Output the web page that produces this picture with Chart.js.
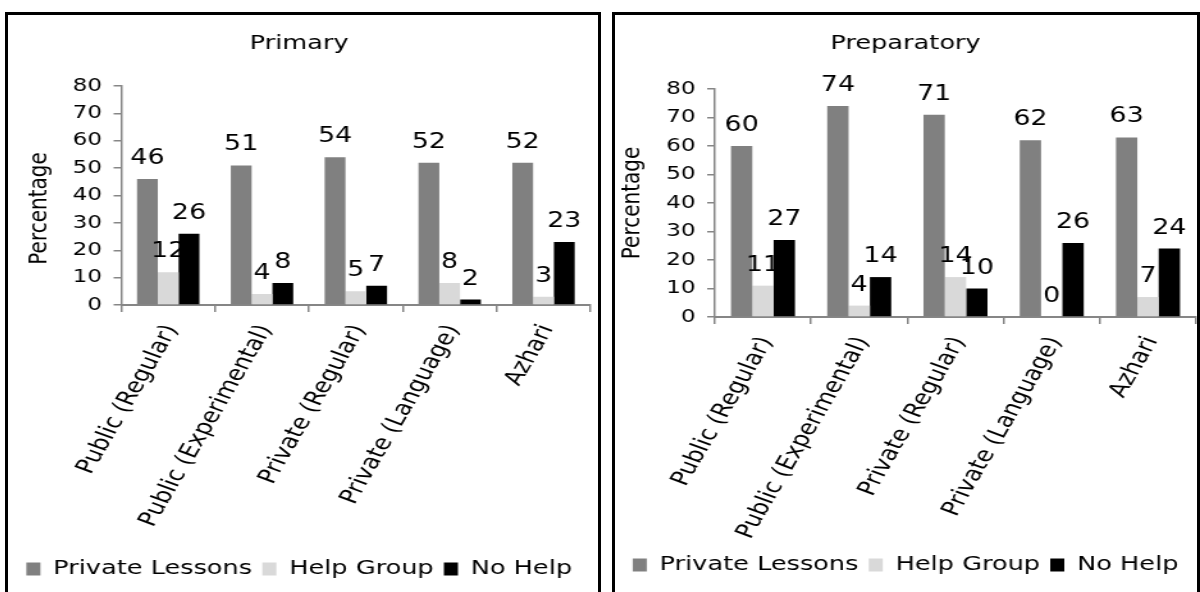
<!DOCTYPE html>
<html>
<head>
<meta charset="utf-8">
<script src="https://cdn.jsdelivr.net/npm/chart.js@4.4.1/dist/chart.umd.min.js"></script>
<style>
  html, body { margin: 0; padding: 0; background: #fff; }
  body { width: 1200px; height: 592px; position: relative; overflow: hidden; }
  .panel { position: absolute; top: 12px; height: 600px; border: 3px solid #000; box-sizing: border-box; background: #fff; overflow: hidden; }
  #p1 { left: 5px; width: 596px; }
  #p2 { left: 612px; width: 588px; }
  /* the charts are drawn narrow and widened horizontally */
  .stretch { position: absolute; left: 0; top: 0; height: 594px; transform-origin: 0 0; }
  .stretch canvas { display: block; }
</style>
</head>
<body>
<div class="panel" id="p1"><div class="stretch" id="s1"><canvas id="c1"></canvas></div></div>
<div class="panel" id="p2"><div class="stretch" id="s2"><canvas id="c2"></canvas></div></div>
<script>
// School types shown on the x axis
const categories = ['Public (Regular)', 'Public (Experimental)', 'Private (Regular)', 'Private (Language)', 'Azhari'];
const seriesNames = ['Private Lessons', 'Help Group', 'No Help'];
const seriesColors = ['#808080', '#d9d9d9', '#000000'];

// Primary stage (%)
const primaryPrivateLessons = [46, 51, 54, 52, 52];
const primaryHelpGroup = [12, 4, 5, 8, 3];
const primaryNoHelp = [26, 8, 7, 2, 23];

// Preparatory stage (%)
const prepPrivateLessons = [60, 74, 71, 62, 63];
const prepHelpGroup = [11, 4, 14, 0, 7];
const prepNoHelp = [27, 14, 10, 26, 24];

const yTicks = [0, 10, 20, 30, 40, 50, 60, 70, 80];
const yAxisTitle = 'Percentage';

const FONT = '"DejaVu Sans", Verdana, sans-serif';
const STRETCH = 1.28;
const AXIS_GRAY = '#868686';

// Value labels drawn just above each bar
const valueLabels = {
  id: 'valueLabels',
  afterDatasetsDraw(chart) {
    const ctx = chart.ctx;
    ctx.save();
    ctx.font = '21px ' + FONT;
    ctx.fillStyle = '#000';
    ctx.textAlign = 'center';
    ctx.textBaseline = 'alphabetic';
    chart.data.datasets.forEach((ds, i) => {
      chart.getDatasetMeta(i).data.forEach((bar, j) => {
        ctx.fillText(String(ds.data[j]), bar.x, bar.y - 15);
      });
    });
    ctx.restore();
  }
};

// Vertical y-axis title, placed beside the value axis
const sideTitle = {
  id: 'sideTitle',
  afterDraw(chart, args, opts) {
    const ctx = chart.ctx;
    const area = chart.chartArea;
    ctx.save();
    ctx.font = '20px ' + FONT;
    ctx.fillStyle = '#000';
    ctx.textAlign = 'center';
    ctx.textBaseline = 'middle';
    ctx.translate(opts.x, (area.top + area.bottom) / 2 + opts.dy);
    ctx.rotate(-Math.PI / 2);
    ctx.fillText(opts.text, 0, 0);
    ctx.restore();
  }
};

function makeChart(id, wrapId, title, values, geo) {
  const wrap = document.getElementById(wrapId);
  wrap.style.width = geo.width + 'px';
  wrap.style.transform = 'scaleX(' + STRETCH + ')';
  return new Chart(document.getElementById(id), {
    type: 'bar',
    data: {
      labels: categories,
      datasets: values.map((v, i) => ({
        label: seriesNames[i],
        data: v,
        backgroundColor: seriesColors[i],
        borderWidth: 0
      }))
    },
    options: {
      responsive: true,
      maintainAspectRatio: false,
      animation: false,
      devicePixelRatio: 1,
      layout: { padding: { left: 0, right: geo.padRight, top: 17, bottom: geo.padBottom } },
      datasets: { bar: { categoryPercentage: 0.665, barPercentage: 1.0 } },
      plugins: {
        title: {
          display: true, text: title, color: '#000',
          font: { family: FONT, size: 20, weight: 'normal', lineHeight: 1.2 },
          padding: { top: 0, bottom: geo.titleGap }
        },
        legend: {
          position: 'bottom',
          labels: {
            color: '#000', boxWidth: 11, boxHeight: 13, padding: 8,
            font: { family: FONT, size: 20 }
          }
        },
        tooltip: { enabled: false },
        sideTitle: { text: yAxisTitle, x: geo.titleX, dy: geo.titleDy }
      },
      scales: {
        x: {
          afterFit(axis) { axis.height = geo.xHeight; },
          grid: { display: true, drawOnChartArea: false, color: AXIS_GRAY, lineWidth: 1.5, tickLength: 7, offset: true },
          border: { color: AXIS_GRAY, width: 2 },
          ticks: {
            color: '#000', maxRotation: 65, minRotation: 65, padding: 9, labelOffset: 3,
            autoSkip: false,
            font: { family: FONT, size: 20.5 }
          }
        },
        y: {
          min: 0, max: 80,
          afterFit(axis) { axis.width = geo.yWidth; },
          afterBuildTicks(axis) { axis.ticks = yTicks.map(v => ({ value: v })); },
          grid: { display: true, drawOnChartArea: false, color: AXIS_GRAY, lineWidth: 1.5, tickLength: 6 },
          border: { color: AXIS_GRAY, width: 1.5 },
          ticks: { color: '#000', padding: 9, autoSkip: false, font: { family: FONT, size: 18 } }
        }
      }
    },
    plugins: [valueLabels, sideTitle]
  });
}

makeChart('c1', 's1', 'Primary', [primaryPrivateLessons, primaryHelpGroup, primaryNoHelp],
  { width: 461, padRight: 6, padBottom: 20, titleGap: 30, xHeight: 246, yWidth: 88.5, titleX: 25, titleDy: 13 });
makeChart('c2', 's2', 'Preparatory', [prepPrivateLessons, prepHelpGroup, prepNoHelp],
  { width: 455, padRight: 1, padBottom: 24, titleGap: 33, xHeight: 230, yWidth: 78, titleX: 14, titleDy: 0 });
</script>
</body>
</html>
